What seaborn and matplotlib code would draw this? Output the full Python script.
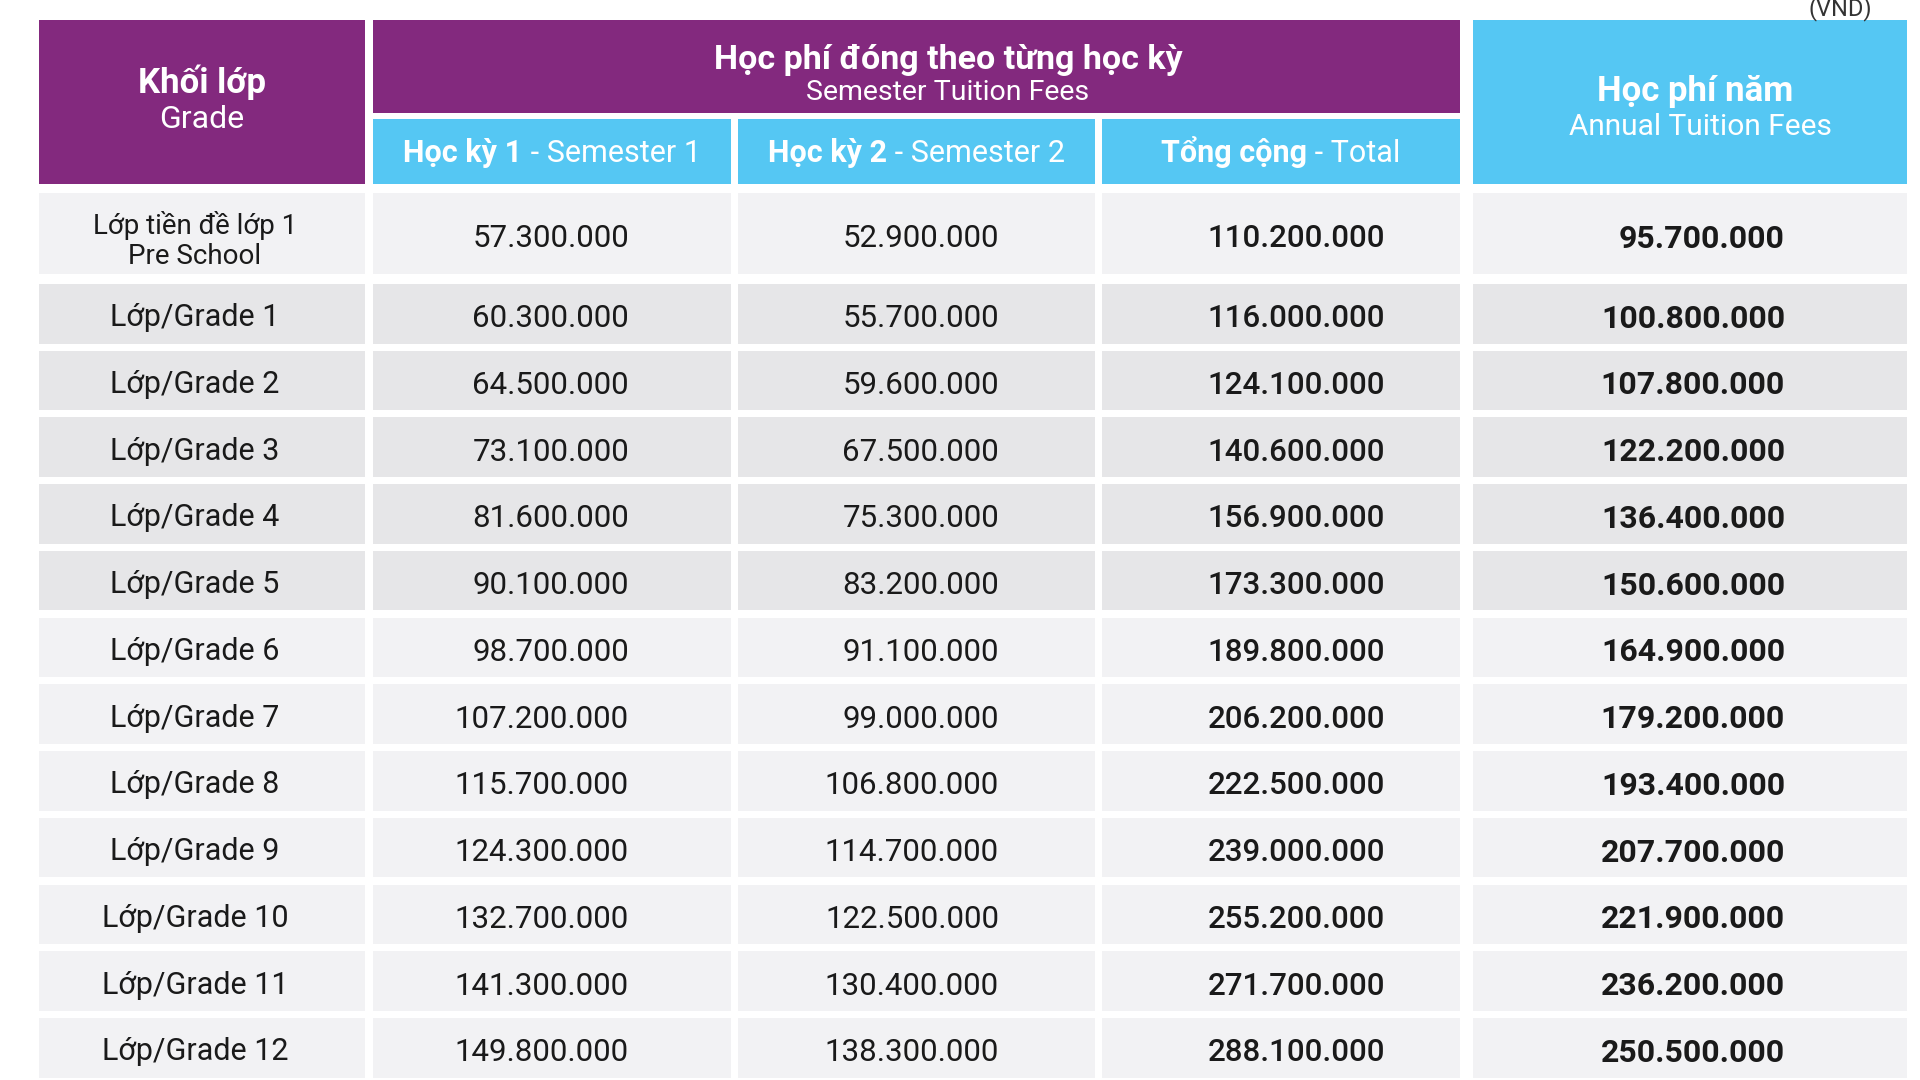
import matplotlib
matplotlib.use("Agg")
import matplotlib.pyplot as plt
from matplotlib.patches import Rectangle
import seaborn as sns
import pandas as pd

# --- data (VND) ---
grades = ["Lớp tiền đề lớp 1\nPre School", "Lớp/Grade 1", "Lớp/Grade 2", "Lớp/Grade 3",
          "Lớp/Grade 4", "Lớp/Grade 5", "Lớp/Grade 6", "Lớp/Grade 7", "Lớp/Grade 8",
          "Lớp/Grade 9", "Lớp/Grade 10", "Lớp/Grade 11", "Lớp/Grade 12"]
semester_1 = [57300000, 60300000, 64500000, 73100000, 81600000, 90100000, 98700000,
              107200000, 115700000, 124300000, 132700000, 141300000, 149800000]
semester_2 = [52900000, 55700000, 59600000, 67500000, 75300000, 83200000, 91100000,
              99000000, 106800000, 114700000, 122500000, 130400000, 138300000]
total = [110200000, 116000000, 124100000, 140600000, 156900000, 173300000, 189800000,
         206200000, 222500000, 239000000, 255200000, 271700000, 288100000]
annual = [95700000, 100800000, 107800000, 122200000, 136400000, 150600000, 164900000,
          179200000, 193400000, 207700000, 221900000, 236200000, 250500000]

header_grade = ("Khối lớp", "Grade")
header_semester = ("Học phí đóng theo từng học kỳ", "Semester Tuition Fees")
header_annual = ("Học phí năm", "Annual Tuition Fees")
sub_headers = [("Học kỳ 1", " - Semester 1"), ("Học kỳ 2", " - Semester 2"),
               ("Tổng cộng", " - Total")]
unit_label = "(VND)"

df = pd.DataFrame({"grade": grades, "sem1": semester_1, "sem2": semester_2,
                   "total": total, "annual": annual})

# --- style ---
sns.set_theme(style="white")
plt.rcParams["font.family"] = ["Roboto", "DejaVu Sans"]

PURPLE = "#83297E"
BLUE = "#55C7F3"
GREY_DARK = "#E6E6E8"
GREY_LIGHT = "#F2F2F4"
TEXT = "#1A1A1A"

# column edges (pixels) and row edges
cols = {"grade": (39, 365), "sem1": (373, 731), "sem2": (738, 1095),
        "total": (1102, 1460), "annual": (1473, 1907)}
num_right = {"sem1": 629, "sem2": 999, "total": 1385, "annual": 1785}
num_weight = {"sem1": "normal", "sem2": "normal", "total": "medium", "annual": "bold"}
num_size = {"sem1": 22.5, "sem2": 22.5, "total": 22.5, "annual": 23}


def row_span(i):
    if i == 0:
        return 193, 274
    top = 284 + (i - 1) * 66.73
    return top, top + 59.5


def fmt(v):
    return f"{v:,}".replace(",", ".")


fig = plt.figure(figsize=(19.2, 10.8), dpi=100)
ax = fig.add_axes([0, 0, 1, 1])
ax.set_xlim(0, 1920)
ax.set_ylim(1080, 0)
ax.axis("off")
renderer = fig.canvas.get_renderer()


def box(x0, x1, y0, y1, color):
    ax.add_patch(Rectangle((x0, y0), x1 - x0, y1 - y0, facecolor=color,
                           edgecolor="none"))


def runs(cx, y, parts, size, color="white"):
    # draw text pieces of different weights on one baseline, centred at cx
    texts = [ax.text(0, y, s, fontsize=size, fontweight=w, color=color,
                     ha="left", va="baseline") for s, w in parts]
    widths = [t.get_window_extent(renderer).width for t in texts]
    x = cx - sum(widths) / 2
    for t, w in zip(texts, widths):
        t.set_x(x)
        x += w


# --- header ---
box(*cols["grade"], 20, 184, PURPLE)
ax.text(202, 82, header_grade[0], fontsize=25, fontweight="bold", color="white",
        ha="center", va="center")
ax.text(202, 120, header_grade[1], fontsize=23, color="white", ha="center", va="center")

box(cols["sem1"][0], cols["total"][1], 20, 113, PURPLE)
ax.text(948, 60, header_semester[0], fontsize=24.5, fontweight="bold", color="white",
        ha="center", va="center")
ax.text(948, 93, header_semester[1], fontsize=20.5, color="white", ha="center", va="center")

for key, (bold, light) in zip(["sem1", "sem2", "total"], sub_headers):
    x0, x1 = cols[key]
    box(x0, x1, 119, 184, BLUE)
    runs((x0 + x1) / 2, 162, [(bold, "bold"), (light, "normal")], 22)

box(*cols["annual"], 20, 184, BLUE)
ax.text(1695, 91, header_annual[0], fontsize=25, fontweight="bold", color="white",
        ha="center", va="center")
ax.text(1700, 127, header_annual[1], fontsize=21.5, color="white", ha="center", va="center")

ax.text(1840, 9, unit_label, fontsize=17, color="#333333", ha="center", va="center")

# --- body ---
for i, row in df.iterrows():
    y0, y1 = row_span(i)
    cy = (y0 + y1) / 2
    shade = GREY_DARK if 1 <= i <= 5 else GREY_LIGHT
    for key, (x0, x1) in cols.items():
        box(x0, x1, y0, y1, shade)
    if i == 0:
        first, second = row["grade"].split("\n")
        ax.text(195, 225, first, fontsize=20, color=TEXT, ha="center", va="center")
        ax.text(195, 256, second, fontsize=20, color=TEXT, ha="center", va="center")
    else:
        ax.text(195, cy + 4, row["grade"], fontsize=22, color=TEXT,
                ha="center", va="center")
    for key in ["sem1", "sem2", "total", "annual"]:
        ax.text(num_right[key], cy + 5, fmt(row[key]), fontsize=num_size[key],
                fontweight=num_weight[key], color=TEXT, ha="right", va="center")

fig.savefig("out.png", dpi=100, facecolor="white")
